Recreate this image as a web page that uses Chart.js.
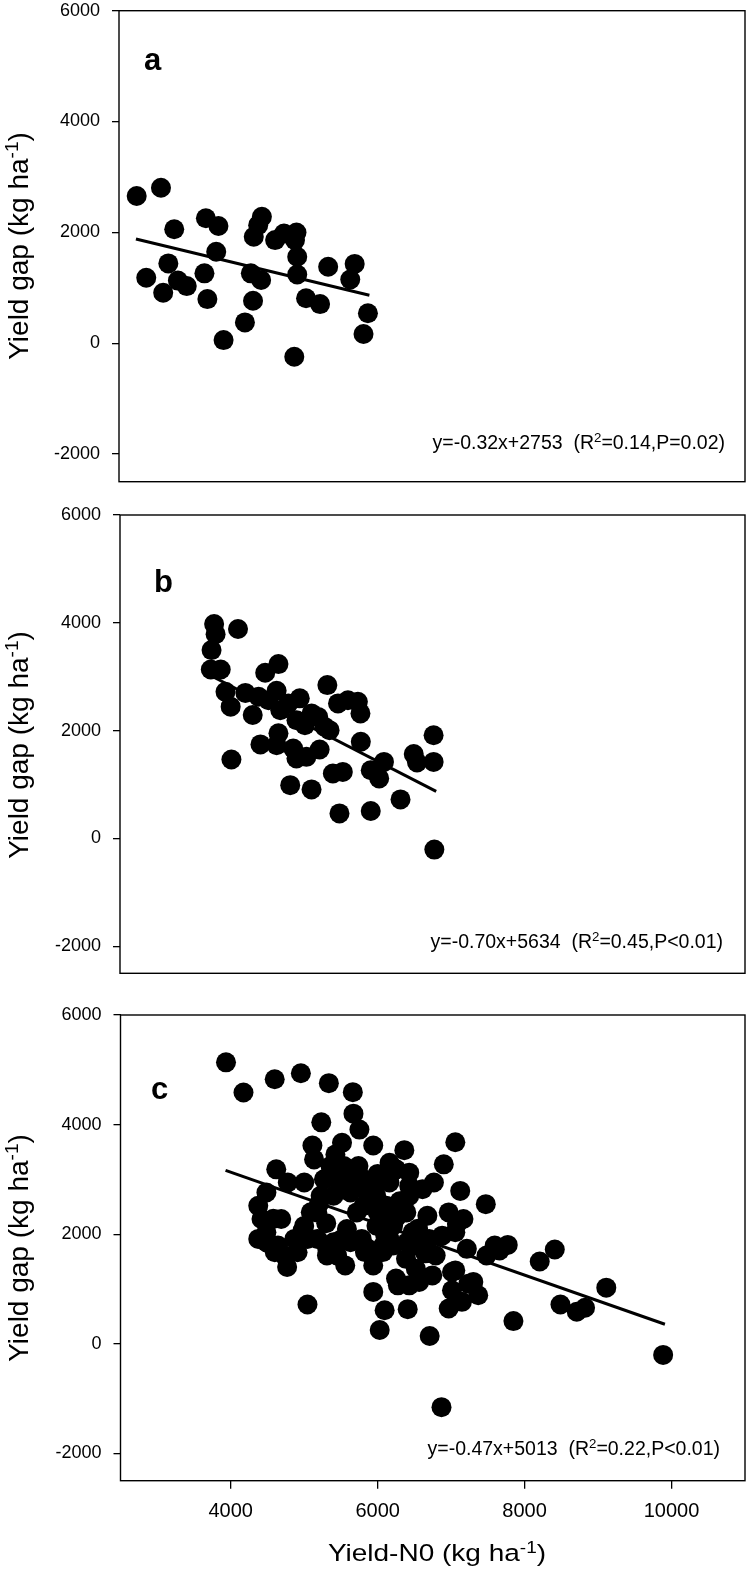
<!DOCTYPE html>
<html>
<head>
<meta charset="utf-8">
<script src="https://cdn.jsdelivr.net/npm/chart.js@4.4.1/dist/chart.umd.min.js"></script>
<style>
  html, body { margin: 0; padding: 0; background: #fff; }
  #page { position: relative; width: 755px; height: 1584px; overflow: hidden;
          font-family: "Liberation Sans", Arial, sans-serif; color: #000; }
  canvas { position: absolute; left: 0; }
  .lbl { position: absolute; white-space: nowrap; line-height: 1; }
  .ytitle { font-size: 28px; left: 19px; transform: translate(-50%, -50%) rotate(-90deg); }
  .xtitle { font-size: 28px; left: 437px; top: 1538px; transform: translateX(-50%) scale(1, 0.84);
            transform-origin: 50% 85%; }
  .sup { font-size: 0.68em; position: relative; top: -0.5em; }
  .letter { font-weight: bold; font-size: 31px; }
  .eq { font-size: 19.5px; }
</style>
</head>
<body>
<div id="page">
  <canvas id="chart-a" width="755" height="532" style="top:-20px"></canvas>
  <canvas id="chart-b" width="755" height="519" style="top:485px"></canvas>
  <canvas id="chart-c" width="755" height="599" style="top:985px"></canvas>

  <div class="lbl ytitle" style="top:246px">Yield gap (kg ha<span class="sup">-1</span>)</div>
  <div class="lbl ytitle" style="top:745px">Yield gap (kg ha<span class="sup">-1</span>)</div>
  <div class="lbl ytitle" style="top:1248px">Yield gap (kg ha<span class="sup">-1</span>)</div>
  <div class="lbl xtitle">Yield-N0 (kg ha<span class="sup">-1</span>)</div>

  <div class="lbl letter" style="left:144px; top:44px">a</div>
  <div class="lbl letter" style="left:154px; top:566px">b</div>
  <div class="lbl letter" style="left:151px; top:1073px">c</div>

  <div class="lbl eq" style="right:30px; top:433px">y=-0.32x+2753&nbsp;&nbsp;(R<span class="sup">2</span>=0.14,P=0.02)</div>
  <div class="lbl eq" style="right:32px; top:932px">y=-0.70x+5634&nbsp;&nbsp;(R<span class="sup">2</span>=0.45,P&lt;0.01)</div>
  <div class="lbl eq" style="right:35px; top:1439px">y=-0.47x+5013&nbsp;&nbsp;(R<span class="sup">2</span>=0.22,P&lt;0.01)</div>
</div>

<script>
// axis ticks and ranges (kg/ha)
const xTickValues = [4000, 6000, 8000, 10000];
const yTickValues = [-2000, 0, 2000, 4000, 6000];
const xRange = [2500, 11000];
const yRange = [-2500, 6000];

// panel a: Yield-N0 vs yield gap
const yieldN0A = [2740, 3070, 3250, 2870, 3170, 3100, 3300, 3420, 3680, 3850, 3820, 3660, 3700, 3920, 4210, 4320, 4290, 4430,
  4330, 4390, 4440, 4620, 4740, 4910, 4890, 4920, 4920, 4880, 5040, 5230, 5340, 5700, 5640, 5880, 5820];
const yieldGapA = [2655, 2805, 2055, 1180, 1440, 910, 1130, 1030, 2255, 2115, 1650, 1260, 795, 55, 375, 765, 1260, 1140,
  1920, 2130, 2280, 1860, 1980, 1995, 1860, 1560, 1240, -245, 810, 705, 1380, 1430, 1150, 540, 165];
const fitXA = [2730, 5900];
const fitYA = [1880, 865];

// panel b
const yieldN0B = [3780, 3800, 4105, 3745, 3735, 3870, 4655, 4475, 3935, 4005, 4205, 4385, 4305, 4630, 4680, 4945, 5320, 4900,
  5015, 5195, 5350, 5465, 5600, 5735, 5770, 4655, 4410, 4630, 4855, 4900, 5035, 5215, 4015, 5775, 5395, 5530, 4815, 5105,
  5485, 5910, 6315, 5910, 6025, 6090, 6495, 6540, 6765, 6765, 6775, 4520, 4790, 5105, 5285];
const yieldGapB = [3977, 3790, 3885, 3495, 3135, 3135, 3235, 3075, 2720, 2445, 2700, 2630, 2290, 2740, 2380, 2600, 2845, 2195,
  2100, 2255, 2010, 2505, 2565, 2535, 2320, 1950, 1745, 1730, 1670, 1485, 1515, 1650, 1465, 1795, 1205, 1235, 990, 910,
  465, 510, 725, 1265, 1115, 1420, 1565, 1410, 1915, 1420, -205, 2565, 2505, 2320, 2070];
const fitXB = [3750, 6800];
const fitYB = [3010, 874];

// panel c
const yieldN0C = [3936, 4174, 4599, 4955, 5336, 5662, 5671, 5752, 5233, 7057, 5112, 5515, 5940, 6363, 6900, 4620, 5135, 5425,
  5739, 6162, 6252, 5984, 4486, 4375, 4777, 5001, 5269, 5671, 6430, 6766, 7124, 4419, 4687, 4486, 4643, 4733, 4768, 4978,
  5045, 5179, 5224, 5313, 5559, 5448, 5582, 5716, 5783, 5940, 5984, 6118, 6208, 6430, 6610, 6677, 6878, 6520, 6386, 6520,
  6744, 7012, 7168, 7214, 5940, 6275, 6430, 6095, 6409, 6028, 6708, 5045, 6869, 6967, 7012, 7147, 7235, 4375, 4867, 5806,
  5358, 5827, 6074, 7472, 7079, 7057, 7302, 7369, 7482, 7593, 7771, 7660, 8206, 8411, 9112, 8488, 8710, 8823, 7848, 9886,
  5400, 5600, 5900, 6000, 6250, 6100, 5850, 5500, 5300, 6300, 6550, 6650, 6000, 5550, 6400, 5200,
  5090, 5000, 4580, 4490, 4600, 4910, 5180, 5310, 5400, 5630, 5810, 5980, 6070, 6210, 6160, 6070, 6390, 6475, 6700, 6790,
  6250, 6565, 7057, 6967, 5630, 5450, 5810, 6160, 6430, 5540];
const yieldGapC = [5136, 4585, 4828, 4937, 4756, 4592, 4199, 3908, 4041, 3678, 3618, 3667, 3618, 3533, 3274, 3183, 3364, 3455,
  3243, 3304, 3183, 2942, 2760, 2517, 2942, 2942, 3001, 3061, 2880, 2942, 2789, 2276, 2276, 2035, 1792, 1610, 1400, 2064,
  1913, 2397, 2699, 1732, 1429, 1610, 2094, 2397, 1913, 1429, 2154, 2517, 1792, 2699, 2820, 2336, 1973, 1792, 1550, 1369,
  1247, 1309, 2276, 1732, 946, 1066, 1066, 612, 631, 250, 141, 716, -1158, 643, 975, 765, 1097, 1913, 1913, 2820,
  3243, 1672, 1792, 2548, 2185, 1338, 1128, 885, 1610, 1792, 1804, 1701, 1501, 1719, 1024, 716, 583, 656, 413, -204,
  2700, 2800, 2600, 2400, 2300, 2000, 1750, 1900, 2200, 2600, 2100, 1650, 3100, 3150, 1850, 2550,
  2400, 2150, 2280, 1850, 1670, 1670, 1913, 1610, 1853, 1853, 2517, 2699, 2336, 2154, 1913, 1672, 2397, 2035, 1913, 1610,
  1189, 1128, 2035, 2397, 2760, 3001, 3001, 2942, 3122, 3243];
const fitXC = [3930, 9910];
const fitYC = [3165, 356];

const FONT = "'Liberation Sans', Arial, sans-serif";

const framePlugin = {
  id: 'frame',
  beforeDatasetsDraw(chart) {
    const {ctx, chartArea} = chart;
    ctx.save();
    ctx.strokeStyle = '#000';
    ctx.lineWidth = 1.4;
    ctx.strokeRect(chartArea.left, chartArea.top, chartArea.right - chartArea.left, chartArea.bottom - chartArea.top);
    ctx.restore();
  }
};

function toPoints(xs, ys) {
  return xs.map((x, i) => ({x: x, y: ys[i]}));
}

function makePanel(id, xs, ys, fx, fy, opts) {
  const ctx = document.getElementById(id).getContext('2d');
  return new Chart(ctx, {
    type: 'scatter',
    data: {
      datasets: [
        {
          data: toPoints(fx, fy),
          showLine: true,
          borderColor: '#000',
          borderWidth: 3,
          pointRadius: 0,
          fill: false
        },
        {
          data: toPoints(xs, ys),
          backgroundColor: '#000',
          borderWidth: 0,
          pointRadius: 10,
          pointHoverRadius: 10
        }
      ]
    },
    options: {
      responsive: false,
      animation: false,
      events: [],
      layout: {padding: {left: 0, right: 4, top: opts.padTop, bottom: opts.padBottom}},
      plugins: {legend: {display: false}, tooltip: {enabled: false}},
      scales: {
        x: {
          type: 'linear',
          min: xRange[0],
          max: xRange[1],
          display: opts.showX,
          afterBuildTicks: s => { s.ticks = xTickValues.map(v => ({value: v})); },
          afterFit: s => { if (opts.showX) s.height = 50; },
          border: {display: false},
          grid: {drawOnChartArea: false, drawTicks: true, tickLength: 8, color: '#000', lineWidth: 1.3},
          ticks: {color: '#000', padding: 11, font: {family: FONT, size: 20}, callback: v => String(v)}
        },
        y: {
          type: 'linear',
          min: yRange[0],
          max: yRange[1],
          afterBuildTicks: s => { s.ticks = yTickValues.map(v => ({value: v})); },
          afterFit: s => { s.width = opts.left; },
          border: {display: false},
          grid: {drawOnChartArea: false, drawTicks: true, tickLength: 7, color: '#000', lineWidth: 1.3},
          ticks: {color: '#000', padding: 12, font: {family: FONT, size: 18}, callback: v => String(v)}
        }
      }
    },
    plugins: [framePlugin]
  });
}

// plot areas: a 10.7-481.7, b 515-973.3, c 1015-1480.7 (page px)
makePanel('chart-a', yieldN0A, yieldGapA, fitXA, fitYA, {left: 119, padTop: 30.7, padBottom: 30.3, showX: false});
makePanel('chart-b', yieldN0B, yieldGapB, fitXB, fitYB, {left: 120, padTop: 30, padBottom: 30.7, showX: false});
makePanel('chart-c', yieldN0C, yieldGapC, fitXC, fitYC, {left: 120.5, padTop: 30, padBottom: 53.3, showX: true});
</script>
</body>
</html>
